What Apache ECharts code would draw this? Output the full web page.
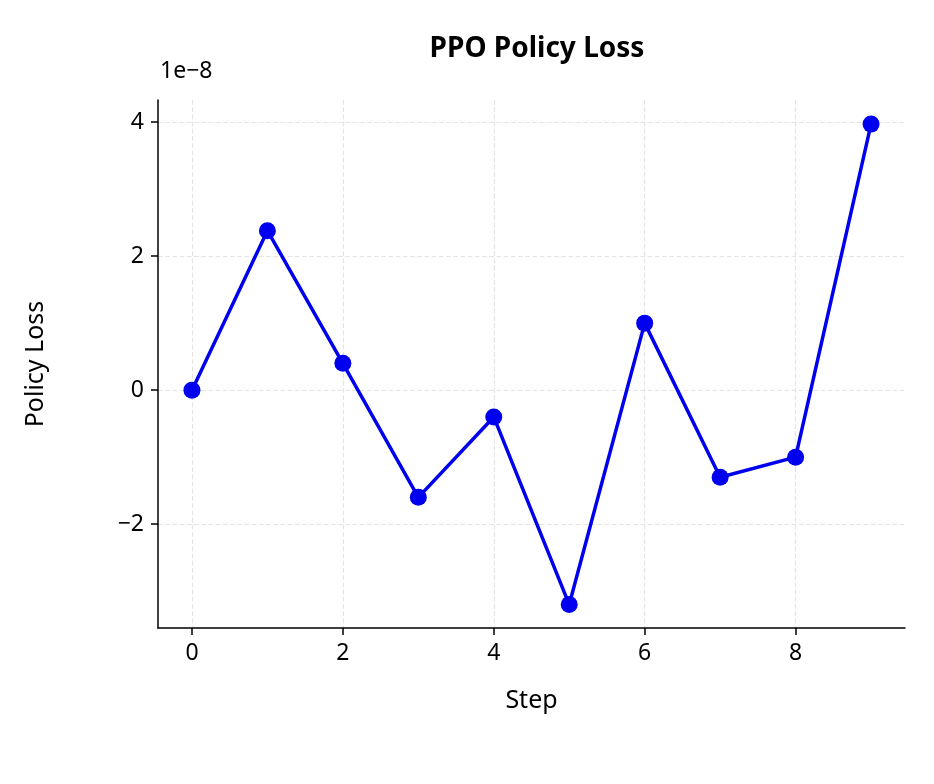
<!DOCTYPE html><html><head><meta charset="utf-8"><script src="https://cdn.jsdelivr.net/npm/echarts@6/dist/echarts.min.js"></script></head><body style="margin:0"><div id="c" style="width:934px;height:784px"></div><script>
const steps=[0,1,2,3,4,5,6,7,8,9];
const loss=[0,2.38,0.4,-1.6,-0.4,-3.2,1.0,-1.3,-1.0,3.97];
const xTicks=[0,2,4,6,8];
const yTicks=[-2,0,2,4];
const F='Noto Sans';
const c=echarts.init(document.getElementById('c'));
c.setOption({animation:false,backgroundColor:'#fff',
title:{text:'PPO Policy Loss',left:532,top:30,textAlign:'center',textStyle:{fontFamily:F,fontSize:28,fontWeight:'bold',color:'#000'}},
graphic:[{type:'text',left:160,top:60,style:{text:'1e−8',font:'23px "Noto Sans"',fill:'#000'}}],
grid:{left:158,right:29,top:100,bottom:156},
xAxis:{type:'value',min:-0.45,max:9.45,name:'Step',nameLocation:'middle',nameGap:60,nameTextStyle:{fontFamily:F,fontSize:25,color:'#000'},
axisLine:{onZero:false,lineStyle:{color:'#000',width:1.5}},axisTick:{customValues:xTicks,length:7,lineStyle:{color:'#000',width:1.5}},
axisLabel:{customValues:xTicks,fontFamily:F,fontSize:23,color:'#000',margin:14},
splitLine:{show:true,lineStyle:{type:'dashed',color:'#e4e4e4',width:1.2}}},
yAxis:{type:'value',min:-3.55,max:4.33,name:'Policy Loss',nameLocation:'middle',nameGap:110,nameTextStyle:{fontFamily:F,fontSize:25,color:'#000'},
axisLine:{show:true,onZero:false,lineStyle:{color:'#000',width:1.5}},axisTick:{show:true,customValues:yTicks,length:7,lineStyle:{color:'#000',width:1.5}},
axisLabel:{customValues:yTicks,fontFamily:F,fontSize:23,color:'#000',margin:14,formatter:v=>String(v).replace('-','−')},
splitLine:{show:true,lineStyle:{type:'dashed',color:'#e4e4e4',width:1.2}}},
series:[{type:'line',data:steps.map((s,i)=>[s,loss[i]]),symbol:'circle',symbolSize:17,itemStyle:{color:'#0000ee'},lineStyle:{color:'#0000ee',width:3.5}}]
});
</script></body></html>
